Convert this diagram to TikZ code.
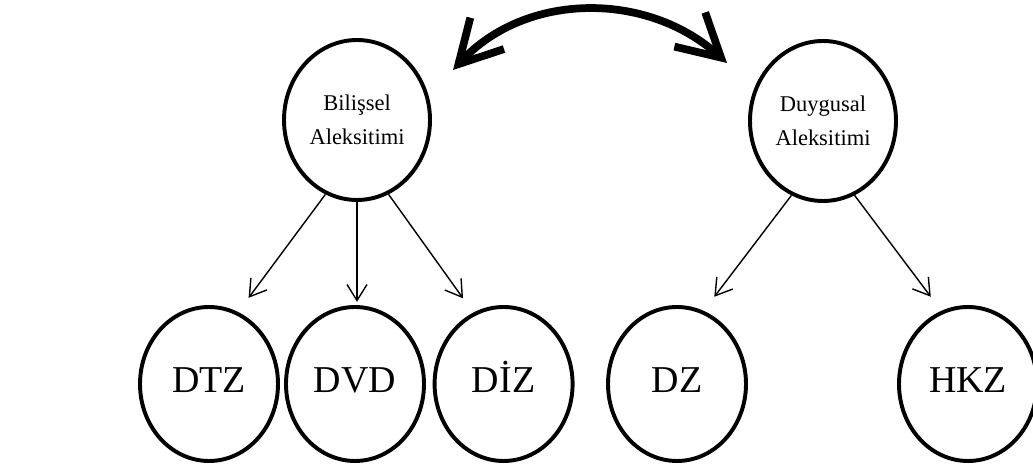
\documentclass[tikz,border=0pt]{standalone}
\usepackage{fontspec}
\setmainfont{Liberation Serif}
\usetikzlibrary{arrows.meta,shapes}

\begin{document}
\begin{tikzpicture}[auto, main node/.style={ellipse,draw,line width=2.8pt,inner sep=0pt},top node/.style={main node,minimum width=3.65cm,minimum height=4cm,align=center,font=\fontsize{16}{24}\selectfont},sub node/.style={main node,minimum width=3.45cm,minimum height=3.85cm,text height=0.6cm,text depth=0.17cm,font=\fontsize{27}{32}\selectfont},arr/.style={-{Straight Barb[length=0.4cm,width=0.5cm]},line width=1pt,shorten >=0.44cm},big arrow/.style={{Straight Barb[length=1.05cm,width=1.15cm]}-{Straight Barb[length=1.05cm,width=1.15cm]},line width=5.5pt}]
\useasboundingbox (0,0) rectangle (25.825,11.75);
\begin{scope}
\node[top node] (bil) at (8.925,8.75) {Bilişsel\\Aleksitimi};
\node[top node] (duy) at (20.575,8.725) {Duygusal\\Aleksitimi};
\node[sub node] (dtz) at (5.225,2.15) {DTZ};
\node[sub node] (dvd) at (8.875,2.15) {DVD};
\node[sub node] (diz) at (12.59,2.15) {DİZ};
\node[sub node] (dz) at (16.925,2.15) {DZ};
\node[sub node] (hkz) at (24.2,2.15) {HKZ};
\end{scope}
\coordinate (lt) at (11.325,10.0);
\coordinate (rt) at (18.175,10.175);
\begin{scope}
\draw[big arrow] (lt) to[out=47,in=138] (rt);
\draw[arr] (bil.247) -- (dtz.68);
\draw[arr,shorten >=0.08cm] (bil.south) -- (bil.south |- dvd.north);
\draw[arr] (bil.293) -- (diz.113);
\draw[arr] (duy.247) -- (dz.70);
\draw[arr] (duy.293) -- (hkz.110);
\end{scope}
\end{tikzpicture}
\end{document}
